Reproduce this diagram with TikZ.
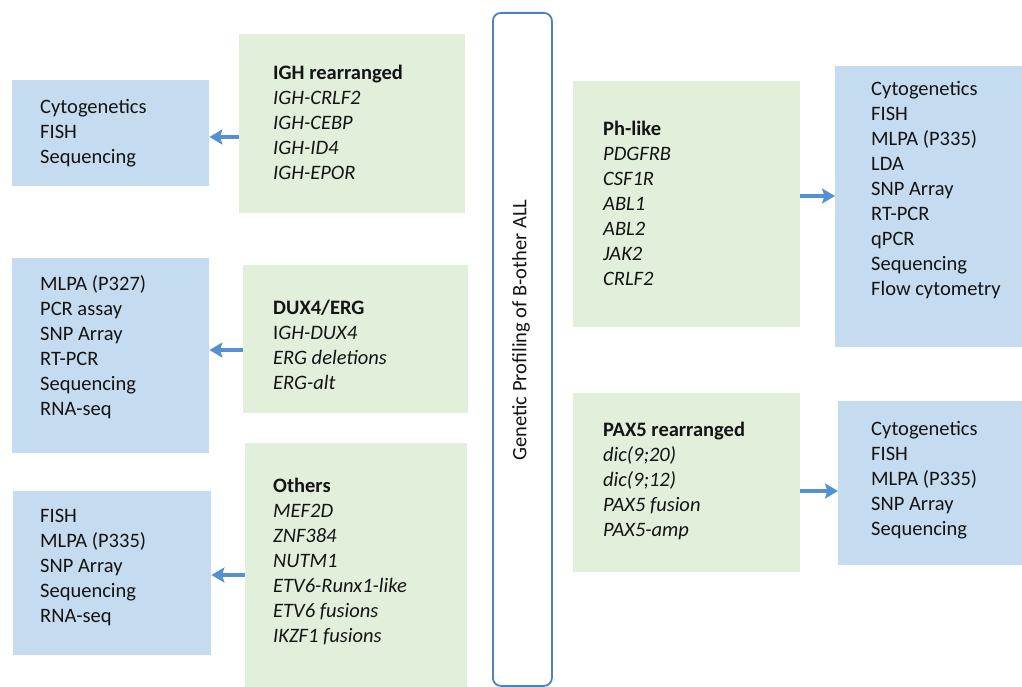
\documentclass[tikz,border=0pt]{standalone}
\usepackage{fontspec}
\setmainfont{Carlito}
\usetikzlibrary{arrows.meta}
\definecolor{ink}{HTML}{141414}
\definecolor{grn}{HTML}{E2EFDA}
\definecolor{blu}{HTML}{C5DCF0}
\definecolor{frame}{HTML}{4F81BD}
\definecolor{arrowc}{HTML}{5591D0}
\tikzset{
  grp/.style={fill=grn, draw=none, inner sep=0pt, anchor=north west},
  meth/.style={fill=blu, draw=none, inner sep=0pt, anchor=north west},
  txt/.style={anchor=west, align=left, text=ink, inner sep=0pt, font=\fontsize{20.5}{25}\selectfont},
  hub/.style={draw=frame, line width=1.8pt, rounded corners=8pt, fill=white, inner sep=0pt, anchor=north west},
  arr/.style={draw=arrowc, line width=3.5pt, -{Stealth[length=13pt,width=15pt,inset=2.5pt]}},
}
\begin{document}
\begin{tikzpicture}[x=1pt,y=-1pt]
  \path[use as bounding box, fill=white] (0,0) rectangle (1022,687);

  % central frame
  \node[hub, minimum width=59pt, minimum height=673pt] (hub) at (492,12) {};
  \node[txt, anchor=center, rotate=90] (hubtxt) at (521,330) {Genetic Profiling of B-other ALL};

  % left side: subgroups
  \node[grp, minimum width=226pt, minimum height=179pt] (igh) at (239,34) {};
  \node[txt] (ightxt) at (273,122) {\textbf{IGH rearranged}\\ \textit{IGH-CRLF2}\\ \textit{IGH-CEBP}\\ \textit{IGH-ID4}\\ \textit{IGH-EPOR}};
  \node[grp, minimum width=225pt, minimum height=148pt] (dux) at (243,265) {};
  \node[txt] (duxtxt) at (273,344.5) {\textbf{DUX4/ERG}\\ I\textit{GH-DUX4}\\ \textit{ERG deletions}\\ \textit{ERG-alt}};
  \node[grp, minimum width=222pt, minimum height=246pt] (oth) at (245,443) {};
  \node[txt] (othtxt) at (273,562) {\textbf{Others}\\ \textit{MEF2D}\\ \textit{ZNF384}\\ \textit{NUTM1}\\ \textit{ETV6-Runx1-like}\\ \textit{ETV6 fusions}\\ \textit{IKZF1 fusions}};

  % left side: methods
  \node[meth, minimum width=197pt, minimum height=106pt] (cyt) at (12,80) {};
  \node[txt] (cyttxt) at (40,133) {Cytogenetics\\ FISH\\ Sequencing};
  \node[meth, minimum width=197pt, minimum height=195pt] (mlpa) at (12,258) {};
  \node[txt] (mlpatxt) at (40,347.5) {MLPA (P327)\\ PCR assay\\ SNP Array\\ RT-PCR\\ Sequencing\\ RNA-seq};
  \node[meth, minimum width=198pt, minimum height=164pt] (fish) at (13,491) {};
  \node[txt] (fishtxt) at (40,567) {FISH\\ MLPA (P335)\\ SNP Array\\ Sequencing\\ RNA-seq};

  % right side: subgroups
  \node[grp, minimum width=227pt, minimum height=246pt] (ph) at (573,81) {};
  \node[txt] (phtxt) at (603,203) {\textbf{Ph-like}\\ \textit{PDGFRB}\\ \textit{CSF1R}\\ \textit{ABL1}\\ \textit{ABL2}\\ \textit{JAK2}\\ \textit{CRLF2}};
  \node[grp, minimum width=227pt, minimum height=179pt] (pax) at (573,393) {};
  \node[txt] (paxtxt) at (603,481) {\textbf{PAX5 rearranged}\\ \textit{dic(9;20)}\\ \textit{dic(9;12)}\\ \textit{PAX5 fusion}\\ \textit{PAX5-amp}};

  % right side: methods
  \node[meth, minimum width=187pt, minimum height=281pt] (bph) at (835,66) {};
  \node[txt] (bphtxt) at (871,190) {Cytogenetics\\ FISH\\ MLPA (P335)\\ LDA\\ SNP Array\\ RT-PCR\\ qPCR\\ Sequencing\\ Flow cytometry};
  \node[meth, minimum width=184pt, minimum height=164pt] (bpax) at (838,401) {};
  \node[txt] (bpaxtxt) at (871,480) {Cytogenetics\\ FISH\\ MLPA (P335)\\ SNP Array\\ Sequencing};

  % arrows
  \draw[arr] (igh.west |- 0,137) -- (cyt.east |- 0,137);
  \draw[arr] (dux.west |- 0,350) -- (mlpa.east |- 0,350);
  \draw[arr] (oth.west |- 0,575) -- (fish.east |- 0,575);
  \draw[arr] (ph.east |- 0,196) -- (bph.west |- 0,196);
  \draw[arr] (pax.east |- 0,491) -- (bpax.west |- 0,491);
\end{tikzpicture}
\end{document}
